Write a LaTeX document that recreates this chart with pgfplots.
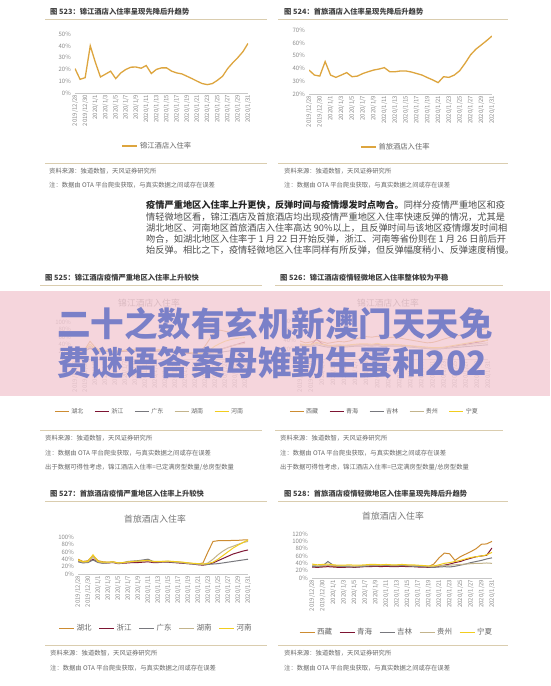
\documentclass[border=0pt]{standalone}
\usepackage{fontspec}
\setmainfont{Noto Sans CJK SC}
\usepackage{pgfplots}
\usepackage{pgfplotstable}
\pgfplotsset{compat=1.18}
\definecolor{gold}{RGB}{221,165,62}
\definecolor{cA}{RGB}{205,140,50}
\definecolor{cB}{RGB}{125,20,50}
\definecolor{cC}{RGB}{120,120,125}
\definecolor{cD}{RGB}{195,180,140}
\definecolor{cE}{RGB}{242,205,30}
\definecolor{rulec}{RGB}{218,205,175}
\definecolor{pinkb}{RGB}{243,203,212}
\definecolor{bluet}{RGB}{122,128,200}
\newcommand\fs[1]{\fontsize{#1}{#1}\selectfont}

\pgfplotstableread{
i v
0 20.7
1 11.6
2 13
3 40
4 26
5 13.6
6 16
7 18.5
8 12.2
9 17
10 20
11 21.9
12 22
13 21
14 23.3
15 16.5
16 20
17 21.3
18 21.3
19 18.5
20 17
21 16.2
22 14.2
23 12.2
24 10
25 8
26 7.1
27 8
28 10.8
29 14.2
30 20.7
31 25.6
32 30
33 35
34 42
}\tjj

\pgfplotstableread{
i v
0 38.7
1 34.8
2 34
3 45.3
4 34.8
5 33
6 34.8
7 36.7
8 33.5
9 34
10 36
11 37.4
12 38.7
13 39.5
14 40.6
15 37.4
16 37.4
17 38
18 38
19 37.2
20 36
21 34.8
22 32.8
23 31
24 28.9
25 33.5
26 33
27 34.8
28 38.2
29 44
30 50.5
31 55
32 58.3
33 61.7
34 65.3
}\tsl

\pgfplotstableread{
i a b c d e
0 30 22 25 28 26
1 24 20 22 24 22
2 26 21 23 25 24
3 48 30 28 35 40
4 32 24 24 27 28
5 22 20 21 22 23
6 22 20 21 22 22
7 24 21 22 23 23
8 20 19 20 21 21
9 22 20 21 22 22
10 24 21 22 23 23
11 25 22 23 24 25
12 26 22 23 24 26
13 25 22 23 24 25
14 28 23 24 26 27
15 22 20 21 22 22
16 24 21 22 23 24
17 25 22 22 24 25
18 24 21 22 23 24
19 22 20 21 22 22
20 21 19 20 21 21
21 19 18 19 20 20
22 17 16 18 18 18
23 16 15 17 17 17
24 16 14 16 16 16
25 20 14 15 15 15
26 35 15 15 16 18
27 55 18 16 18 25
28 75 22 17 22 35
29 78 26 18 26 42
30 75 30 20 30 48
31 72 34 22 35 52
32 70 38 24 38 55
33 72 42 25 40 57
34 74 46 27 42 58
}\tjjsev

\pgfplotstableread{
i a b c d e
0 38 30 28 30 32
1 34 28 26 28 30
2 36 30 27 29 31
3 40 42 30 33 35
4 36 32 27 30 31
5 33 28 25 27 29
6 35 27 25 27 29
7 37 28 26 28 30
8 36 27 25 27 29
9 38 28 26 28 30
10 42 29 27 29 31
11 45 30 27 30 32
12 47 30 28 30 32
13 46 29 27 29 31
14 48 31 28 30 33
15 44 28 26 28 30
16 45 29 27 29 31
17 46 30 27 29 31
18 44 29 27 28 30
19 42 28 26 27 29
20 40 27 25 26 28
21 38 26 24 25 27
22 36 24 23 24 26
23 34 23 22 23 25
24 35 22 21 22 24
25 38 22 21 22 24
26 42 23 22 23 25
27 45 25 23 24 27
28 48 27 24 26 29
29 50 29 25 28 31
30 52 31 26 29 33
31 55 33 27 31 35
32 58 35 28 32 37
33 62 37 29 33 38
34 66 40 30 34 40
}\tjjmild

\pgfplotstableread{
i a b c d e
0 40 35 33 36 38
1 34 31 30 32 33
2 36 32 31 33 34
3 50 40 38 45 52
4 36 32 31 33 34
5 33 30 29 31 32
6 32 30 30 31 32
7 33 31 32 32 33
8 30 28 29 29 30
9 31 29 30 30 31
10 32 30 34 32 33
11 33 31 35 33 34
12 34 31 36 34 35
13 35 32 38 35 36
14 36 33 40 36 37
15 33 31 34 33 34
16 33 31 33 33 34
17 34 32 33 33 34
18 34 32 33 34 35
19 33 31 32 33 34
20 32 30 31 32 33
21 31 29 30 31 32
22 30 28 28 29 30
23 28 27 27 28 29
24 27 25 26 27 28
25 30 24 25 26 27
26 60 26 26 30 28
27 88 30 27 40 32
28 90 36 28 52 40
29 90 42 30 62 50
30 90 48 32 70 60
31 91 54 34 75 70
32 91 58 36 80 78
33 92 62 38 85 85
34 92 65 40 88 92
}\tslsev

\pgfplotstableread{
i a b c d e
0 33 30 32 35 38
1 31 29 31 33 36
2 32 30 33 34 37
3 34 31 45 35 38
4 32 30 35 34 36
5 31 29 32 33 35
6 31 29 31 33 35
7 32 30 31 33 36
8 31 29 30 32 35
9 32 30 31 33 35
10 33 31 32 34 36
11 34 31 33 35 37
12 35 32 33 35 37
13 34 31 34 35 36
14 35 32 35 36 37
15 34 31 33 35 36
16 34 31 33 35 36
17 35 32 34 36 37
18 34 31 33 35 36
19 33 31 32 34 36
20 33 30 32 34 35
21 32 30 31 33 34
22 31 29 30 32 33
23 38 30 29 32 33
24 55 32 30 33 36
25 68 35 31 34 40
26 66 38 30 35 42
27 48 42 32 36 45
28 58 45 35 37 48
29 65 50 38 38 52
30 72 54 42 39 56
31 80 58 45 40 58
32 92 60 48 40 60
33 93 62 52 41 63
34 100 82 55 40 70
}\tslmild

\pgfplotsset{
  pg/.style={
    scale only axis,
    xmin=0, xmax=34,
    axis x line*=bottom, axis y line*=left,
    x axis line style={draw=black!22, -},
    y axis line style={draw=none},
    major tick length=0pt,
    xtick={0,2,...,34},
    xticklabels={2019/12/28,2019/12/30,2020/1/1,2020/1/3,2020/1/5,2020/1/7,2020/1/9,2020/1/11,2020/1/13,2020/1/15,2020/1/17,2020/1/19,2020/1/21,2020/1/23,2020/1/25,2020/1/27,2020/1/29,2020/1/31},
    xticklabel style={rotate=90, anchor=east, font=\fs{6}, text=black!45, inner sep=1.5pt},
    yticklabel={\pgfmathprintnumber{\tick}\%},
    yticklabel style={font=\fs{6}, text=black!45, inner sep=1pt, xshift=-3pt},
    /pgf/number format/assume math mode=true,
    legend style={draw=none, fill=none, legend columns=-1, text=black!60, inner sep=0pt},
    legend image code/.code={\draw[#1] (0pt,0pt) -- (15pt,0pt);},
  },
}

\begin{document}
\begin{tikzpicture}
\path[use as bounding box, fill=white] (0pt,0pt) rectangle (550pt,-686pt);

% ---------------- titles and rules ----------------
\begin{scope}[every node/.style={anchor=west, inner sep=0pt, text=black!75, font=\bfseries\fs{7.3}}]
\node at (50pt,-12pt) {图 523：锦江酒店入住率呈现先降后升趋势};
\node at (284pt,-12pt) {图 524：首旅酒店入住率呈现先降后升趋势};
\node at (45pt,-278pt) {图 525：锦江酒店疫情严重地区入住率上升较快};
\node at (280pt,-278pt) {图 526：锦江酒店疫情轻微地区入住率整体较为平稳};
\node at (50pt,-494pt) {图 527：首旅酒店疫情严重地区入住率上升较快};
\node at (284pt,-494pt) {图 528：首旅酒店疫情轻微地区入住率呈现先降后升趋势};
\end{scope}
\begin{scope}[rulec, line width=0.9pt]
\draw (45pt,-19pt) -- (267pt,-19pt);
\draw (278pt,-19pt) -- (508pt,-19pt);
\draw (45pt,-163pt) -- (267pt,-163pt);
\draw (278pt,-163pt) -- (508pt,-163pt);
\draw (40pt,-285pt) -- (262pt,-285pt);
\draw (275pt,-285pt) -- (503pt,-285pt);
\draw (40pt,-430pt) -- (262pt,-430pt);
\draw (275pt,-430pt) -- (503pt,-430pt);
\draw (45pt,-501pt) -- (267pt,-501pt);
\draw (278pt,-501pt) -- (508pt,-501pt);
\draw (45pt,-645pt) -- (267pt,-645pt);
\draw (278pt,-645pt) -- (508pt,-645pt);
\end{scope}
\begin{scope}[every node/.style={anchor=west, inner sep=0pt, text=black!60, font=\fs{6.3}}]
\node at (49pt,-171pt) {资料来源：独道数智，天风证券研究所};
\node at (49pt,-185pt) {注：数据由 OTA 平台爬虫获取，与真实数据之间或存在误差};
\node at (284pt,-171pt) {资料来源：独道数智，天风证券研究所};
\node at (284pt,-185pt) {注：数据由 OTA 平台爬虫获取，与真实数据之间或存在误差};
\node at (45pt,-438pt) {资料来源：独道数智，天风证券研究所};
\node at (45pt,-453pt) {注：数据由 OTA 平台爬虫获取，与真实数据之间或存在误差};
\node at (45pt,-467pt) {出于数据可得性考虑，锦江酒店入住率=已定满房型数量/总房型数量};
\node at (280pt,-438pt) {资料来源：独道数智，天风证券研究所};
\node at (280pt,-453pt) {注：数据由 OTA 平台爬虫获取，与真实数据之间或存在误差};
\node at (280pt,-467pt) {出于数据可得性考虑，锦江酒店入住率=已定满房型数量/总房型数量};
\node at (50pt,-653pt) {资料来源：独道数智，天风证券研究所};
\node at (50pt,-668pt) {注：数据由 OTA 平台爬虫获取，与真实数据之间或存在误差};
\node at (284pt,-653pt) {资料来源：独道数智，天风证券研究所};
\node at (284pt,-668pt) {注：数据由 OTA 平台爬虫获取，与真实数据之间或存在误差};
\end{scope}
\begin{scope}[every node/.style={inner sep=0pt, text=black!55, font=\fs{8.8}}]
\node at (149pt,-303pt) {锦江酒店入住率};
\node at (388pt,-303pt) {锦江酒店入住率};
\node at (155pt,-519pt) {首旅酒店入住率};
\node at (393pt,-516pt) {首旅酒店入住率};
\end{scope}

% ---------------- paragraph ----------------
\begin{scope}[every node/.style={anchor=west, inner sep=0pt, text=black!70, font=\fs{9.2}}]
\node at (146pt,-205pt) {{\bfseries\color{black!85}疫情严重地区入住率上升更快，反弹时间与疫情爆发时点吻合。}同样分疫情严重地区和疫};
\node at (146pt,-217pt) {情轻微地区看，锦江酒店及首旅酒店均出现疫情严重地区入住率快速反弹的情况，尤其是};
\node at (146pt,-228pt) {湖北地区、河南地区首旅酒店入住率高达 90\%以上，且反弹时间与该地区疫情爆发时间相};
\node at (146pt,-239pt) {吻合，如湖北地区入住率于 1 月 22 日开始反弹，浙江、河南等省份则在 1 月 26 日前后开};
\node at (146pt,-250pt) {始反弹。相比之下，疫情轻微地区入住率同样有所反弹，但反弹幅度稍小、反弹速度稍慢。};
\end{scope}

% ---------------- chart 523 ----------------
\begin{axis}[pg, at={(75pt,-93pt)}, anchor=south west, width=173pt, height=59pt,
  ymin=0, ymax=50, ytick={0,10,...,50},
  legend style={at={(axis description cs:0.477,-0.9)}, anchor=center, font=\fs{7.3}}]
\addplot[gold, line width=1.3pt] table[x=i, y=v] {\tjj};
\addlegendentry{锦江酒店入住率}
\end{axis}

% ---------------- chart 524 ----------------
\begin{axis}[pg, at={(309pt,-94pt)}, anchor=south west, width=183pt, height=64pt,
  ymin=20, ymax=70, ytick={20,30,...,70},
  legend style={at={(axis description cs:0.475,-0.83)}, anchor=center, font=\fs{7.3}}]
\addplot[gold, line width=1.3pt] table[x=i, y=v] {\tsl};
\addlegendentry{首旅酒店入住率}
\end{axis}

% ---------------- chart 525 ----------------
\begin{axis}[pg, at={(75pt,-359pt)}, anchor=south west, width=170pt, height=37pt,
  ymin=0, ymax=100, ytick={0,20,...,100},
  legend style={at={(axis description cs:0.44,-1.43)}, anchor=center, font=\fs{6},
    /tikz/every even column/.append style={column sep=9pt}},
  legend image code/.code={\draw[#1] (0pt,0pt) -- (14pt,0pt);}]
\addplot[cA, line width=0.9pt] table[x=i, y=a] {\tjjsev};
\addplot[cB, line width=0.9pt] table[x=i, y=b] {\tjjsev};
\addplot[cC, line width=0.9pt] table[x=i, y=c] {\tjjsev};
\addplot[cD, line width=0.9pt] table[x=i, y=d] {\tjjsev};
\addplot[cE, line width=0.9pt] table[x=i, y=e] {\tjjsev};
\legend{湖北,浙江,广东,湖南,河南}
\end{axis}

% ---------------- chart 526 ----------------
\begin{axis}[pg, at={(300pt,-359pt)}, anchor=south west, width=188pt, height=38pt,
  ymin=0, ymax=80, ytick={0,20,...,80},
  legend style={at={(axis description cs:0.45,-1.39)}, anchor=center, font=\fs{6},
    /tikz/every even column/.append style={column sep=9pt}},
  legend image code/.code={\draw[#1] (0pt,0pt) -- (14pt,0pt);}]
\addplot[cA, line width=0.9pt] table[x=i, y=a] {\tjjmild};
\addplot[cB, line width=0.9pt] table[x=i, y=b] {\tjjmild};
\addplot[cC, line width=0.9pt] table[x=i, y=c] {\tjjmild};
\addplot[cD, line width=0.9pt] table[x=i, y=d] {\tjjmild};
\addplot[cE, line width=0.9pt] table[x=i, y=e] {\tjjmild};
\legend{西藏,青海,吉林,贵州,宁夏}
\end{axis}

% ---------------- chart 527 ----------------
\begin{axis}[pg, at={(78pt,-574pt)}, anchor=south west, width=170pt, height=37pt,
  ymin=0, ymax=100, ytick={0,20,...,100},
  legend style={at={(axis description cs:0.46,-1.46)}, anchor=center, font=\fs{7.5},
    /tikz/every even column/.append style={column sep=5pt}}]
\addplot[cA, line width=1pt] table[x=i, y=a] {\tslsev};
\addplot[cB, line width=1pt] table[x=i, y=b] {\tslsev};
\addplot[cC, line width=1pt] table[x=i, y=c] {\tslsev};
\addplot[cD, line width=1pt] table[x=i, y=d] {\tslsev};
\addplot[cE, line width=1pt] table[x=i, y=e] {\tslsev};
\legend{湖北,浙江,广东,湖南,河南}
\end{axis}

% ---------------- chart 528 ----------------
\begin{axis}[pg, at={(312pt,-578pt)}, anchor=south west, width=180pt, height=44pt,
  ymin=0, ymax=120, ytick={0,20,...,120},
  legend style={at={(axis description cs:0.47,-1.23)}, anchor=center, font=\fs{7.5},
    /tikz/every even column/.append style={column sep=5pt}}]
\addplot[cA, line width=1pt] table[x=i, y=a] {\tslmild};
\addplot[cB, line width=1pt] table[x=i, y=b] {\tslmild};
\addplot[cC, line width=1pt] table[x=i, y=c] {\tslmild};
\addplot[cD, line width=1pt] table[x=i, y=d] {\tslmild};
\addplot[cE, line width=1pt] table[x=i, y=e] {\tslmild};
\legend{西藏,青海,吉林,贵州,宁夏}
\end{axis}

% ---------------- banner ----------------
\fill[pinkb, opacity=0.8] (0pt,-291pt) rectangle (550pt,-396pt);
\begin{scope}[every node/.style={anchor=west, inner sep=0pt, text=bluet, font=\bfseries\fs{33.5}}]
\node at (57pt,-324pt) {二十之数有玄机新澳门天天免};
\node at (57pt,-363pt) {费谜语答案母雉勤生蛋和202};
\end{scope}
\end{tikzpicture}
\end{document}
